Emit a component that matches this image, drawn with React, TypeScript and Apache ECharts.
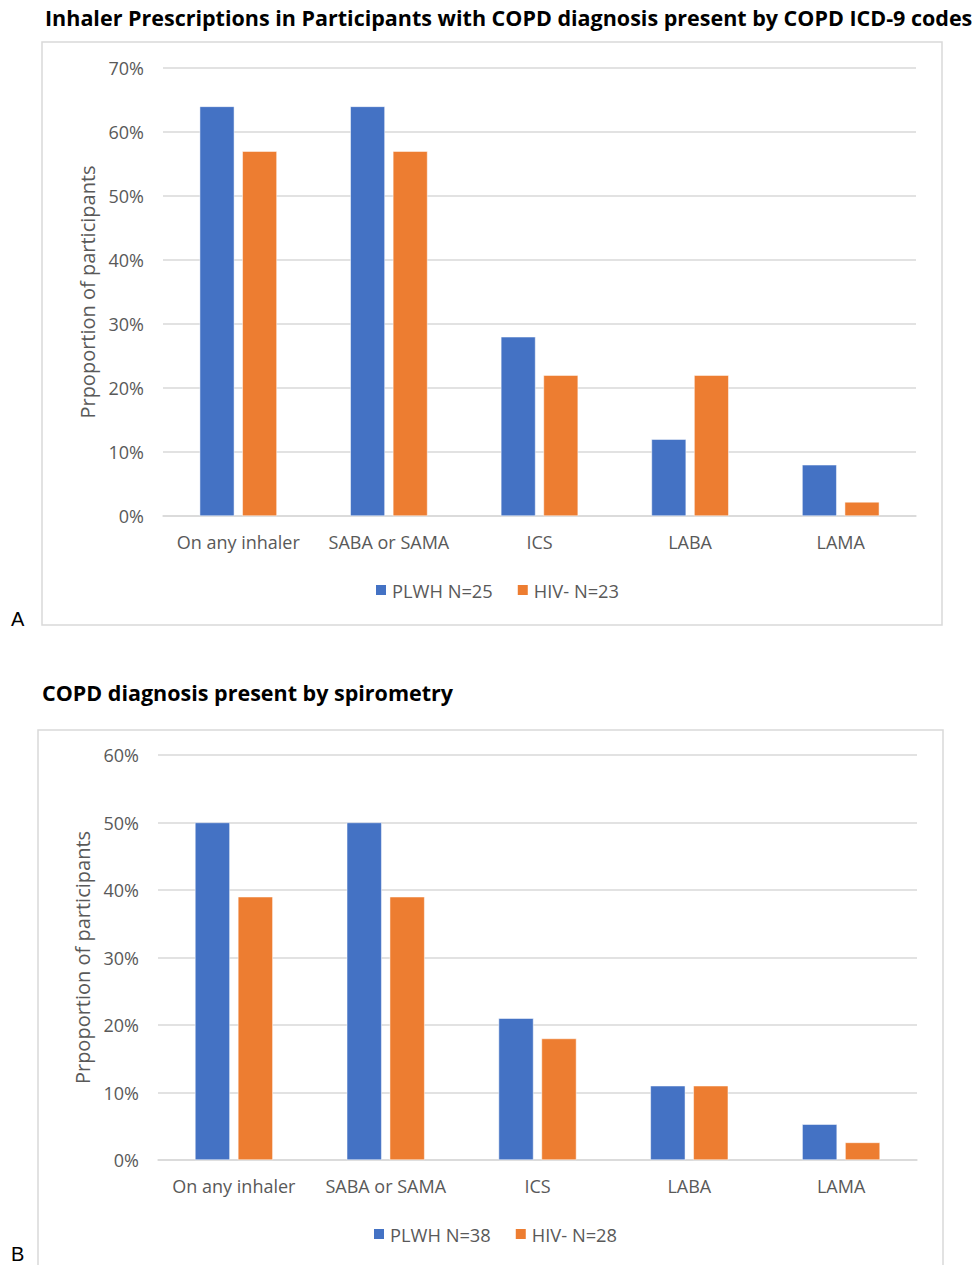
import React, { useEffect, useRef } from "react";
import * as echarts from "echarts";

const categories = ["On any inhaler", "SABA or SAMA", "ICS", "LABA", "LAMA"];
const plwhA = [64, 64, 28, 12, 8];
const hivA = [57, 57, 22, 22, 2.2];
const plwhB = [50, 50, 21, 11, 5.3];
const hivB = [39, 39, 18, 11, 2.6];
const legendA = ["PLWH N=25", "HIV- N=23"];
const legendB = ["PLWH N=38", "HIV- N=28"];
const titleA = "Inhaler Prescriptions in Participants with COPD diagnosis present by COPD ICD-9 codes";
const titleB = "COPD diagnosis present by spirometry";
const yName = "Prpoportion of participants";

const BLUE = "#4472C4";
const ORANGE = "#ED7D31";
const GREY = "#595959";
const GRID = "#d9d9d9";
const FONT = "Open Sans";

export default function App() {
  const ref = useRef<HTMLDivElement>(null);
  useEffect(() => {
    if (!ref.current) return;
    const chart = echarts.init(ref.current, null, { renderer: "svg" });
    const xAxis = (gi: number) => ({
      type: "category",
      gridIndex: gi,
      data: categories,
      axisTick: { show: false },
      axisLine: { lineStyle: { color: GRID, width: 1.5 } },
      axisLabel: { color: GREY, fontSize: 18, fontFamily: FONT, margin: 17, interval: 0 },
    });
    const yAxis = (gi: number, max: number) => ({
      type: "value",
      gridIndex: gi,
      min: 0,
      max,
      interval: 10,
      name: yName,
      nameLocation: "middle",
      nameGap: 64,
      nameTextStyle: { color: GREY, fontSize: 20, fontFamily: FONT },
      axisLine: { show: false },
      axisTick: { show: false },
      splitLine: { lineStyle: { color: GRID, width: 1.5 } },
      axisLabel: { color: GREY, fontSize: 18, fontFamily: FONT, formatter: "{value}%", margin: 19 },
    });
    const bar = (name: string, data: number[], color: string, gi: number) => ({
      type: "bar",
      name,
      data,
      xAxisIndex: gi,
      yAxisIndex: gi,
      barWidth: "23%",
      barGap: "23%",
      itemStyle: { color, borderColor: "#ffffff", borderWidth: 0.5 },
    });
    const legend = (names: string[], top: number, left: number) => ({
      data: names,
      top,
      left,
      padding: 0,
      itemWidth: 12,
      itemHeight: 12,
      itemGap: 23,
      icon: "rect",
      textStyle: { color: GREY, fontSize: 18.3, fontFamily: FONT },
    });
    chart.setOption({
      animation: false,
      backgroundColor: "#ffffff",
      title: [
        {
          text: titleA,
          left: 45,
          top: 6,
          padding: 0,
          textStyle: { fontSize: 21.5, fontWeight: "bold", color: "#000", fontFamily: FONT },
        },
        {
          text: titleB,
          left: 42,
          top: 681,
          padding: 0,
          textStyle: { fontSize: 21.5, fontWeight: "bold", color: "#000", fontFamily: FONT },
        },
      ],
      graphic: [
        { type: "rect", shape: { x: 42, y: 42, width: 900, height: 583 }, style: { fill: "none", stroke: GRID, lineWidth: 1.5 } },
        { type: "rect", shape: { x: 38, y: 730, width: 905, height: 560 }, style: { fill: "none", stroke: GRID, lineWidth: 1.5 } },
        { type: "text", left: 11, top: 609, style: { text: "A", fontSize: 20, fontFamily: "Liberation Sans Narrow, Liberation Sans", fill: "#000" } },
        { type: "text", left: 11, top: 1244, style: { text: "B", fontSize: 20, fontFamily: "Liberation Sans Narrow, Liberation Sans", fill: "#000" } },
      ],
      legend: [legend(legendA, 581, 374), legend(legendB, 1225, 372)],
      grid: [
        { left: 163, right: 57, top: 68, height: 448 },
        { left: 158, right: 56, top: 755, height: 405 },
      ],
      xAxis: [xAxis(0), xAxis(1)],
      yAxis: [yAxis(0, 70), yAxis(1, 60)],
      series: [
        bar(legendA[0], plwhA, BLUE, 0),
        bar(legendA[1], hivA, ORANGE, 0),
        bar(legendB[0], plwhB, BLUE, 1),
        bar(legendB[1], hivB, ORANGE, 1),
      ],
    });
    return () => chart.dispose();
  }, []);
  return <div ref={ref} style={{ position: "absolute", left: 0, top: 0, width: 973, height: 1265 }} />;
}
